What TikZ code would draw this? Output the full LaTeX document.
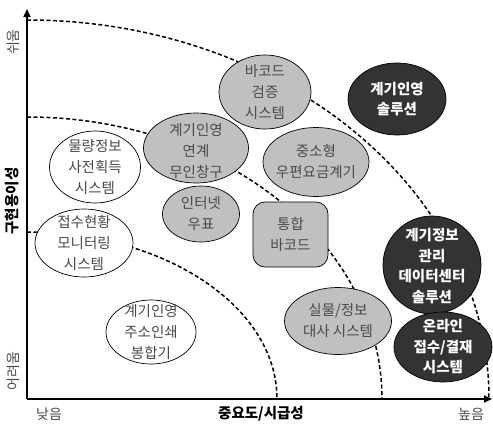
\documentclass[tikz,border=0pt]{standalone}
\usepackage{fontspec}
\setmainfont{Noto Sans CJK KR}
\usetikzlibrary{shapes.geometric,arrows.meta}
\definecolor{gfill}{HTML}{C0C0C0}
\definecolor{dfill}{HTML}{333333}
\definecolor{gtext}{HTML}{4A4A4A}
\tikzset{
  x=1pt,y=1pt,
  arcline/.style={line width=1.5pt,dash pattern=on 4pt off 2.5pt},
  axisline/.style={line width=1.6pt,-{Triangle[length=8pt,width=7pt]}},
  bub/.style={ellipse,draw=black,line width=0.7pt,inner sep=0pt},
  white bub/.style={bub,fill=white},
  gray bub/.style={bub,fill=gfill},
  dark bub/.style={bub,fill=dfill},
  txt/.style={align=center,font=\fontsize{14.5}{21}\selectfont,text=gtext,inner sep=0pt},
  dtxt/.style={align=center,font=\fontsize{14.5}{20.5}\selectfont\bfseries,text=white,inner sep=0pt},
  axlab/.style={font=\fontsize{14}{16}\selectfont,text=gtext,inner sep=0pt},
  axbold/.style={font=\fontsize{14.5}{16}\selectfont\bfseries,text=black,inner sep=0pt}
}
\begin{document}
\begin{tikzpicture}
\useasboundingbox (0,0) rectangle (493,-429);
% dashed arcs
\draw[arcline] (27,-20) arc[start angle=90,end angle=0,x radius=462pt,y radius=379pt];
\draw[arcline] (27,-117) arc[start angle=90,end angle=0,x radius=355pt,y radius=282pt];
\draw[arcline] (27,-232) arc[start angle=90,end angle=0,x radius=250pt,y radius=167pt];
% axes
\coordinate (O) at (27,-399);
\coordinate (ytop) at (27,-9);
\coordinate (xend) at (492,-399);
\draw[axisline] (O) -- (ytop);
\draw[axisline] (O) -- (xend);
% axis labels
\node[axlab,rotate=90] (easy) at (13,-42) {쉬움};
\node[axbold,rotate=90] (impl) at (12,-201) {구현용이성};
\node[axlab,rotate=90] (hard) at (13,-371) {어려움};
\node[axlab] (low) at (49,-414) {낮음};
\node[axbold] (imp) at (261,-414) {중요도/시급성};
\node[axlab] (high) at (471,-414) {높음};
% bubbles
\node[gray bub,minimum width=92pt,minimum height=74pt] (b1) at (265,-92) {};
\node[txt] (b1t) at (b1) {바코드\\검증\\시스템};
\node[dark bub,minimum width=98pt,minimum height=72pt] (b2) at (397,-99) {};
\node[dtxt] (b2t) at (b2) {계기인영\\솔루션};
\node[white bub,minimum width=91pt,minimum height=72pt] (b3) at (95,-167) {};
\node[txt] (b3t) at (b3) {물량정보\\사전획득\\시스템};
\node[gray bub,minimum width=105pt,minimum height=70pt] (b4) at (196,-148) {};
\node[txt] (b4t) at (196,-151) {계기인영\\연계\\무인창구};
\node[gray bub,minimum width=106pt,minimum height=69pt] (b5) at (316,-162) {};
\node[txt] (b5t) at (b5) {중소형\\우편요금계기};
\node[gray bub,minimum width=77pt,minimum height=56pt] (b6) at (201,-214) {};
\node[txt] (b6t) at (b6) {인터넷\\우표};
\node[white bub,minimum width=98pt,minimum height=68pt] (b7) at (84,-243) {};
\node[txt] (b7t) at (b7) {접수현황\\모니터링\\시스템};
\node[white bub,minimum width=90pt,minimum height=64pt] (b8) at (151,-332) {};
\node[txt] (b8t) at (b8) {계기인영\\주소인쇄\\봉합기};
\node[draw=black,fill=gfill,line width=0.7pt,rounded corners=12pt,minimum width=75pt,minimum height=65pt,inner sep=0pt] (b9) at (290.5,-234.5) {};
\node[txt] (b9t) at (b9) {통합\\바코드};
\node[gray bub,minimum width=107pt,minimum height=67pt] (b10) at (338,-321) {};
\node[txt] (b10t) at (b10) {실물/정보\\대사 시스템};
\node[dark bub,minimum width=98pt,minimum height=98pt] (b11) at (432,-265) {};
\node[dtxt] (b11t) at (432,-266) {계기정보\\관리\\데이터센터\\솔루션};
\node[dark bub,minimum width=98pt,minimum height=70pt] (b12) at (443,-347) {};
\node[dtxt] (b12t) at (b12) {온라인\\접수/결재\\시스템};
\end{tikzpicture}
\end{document}
